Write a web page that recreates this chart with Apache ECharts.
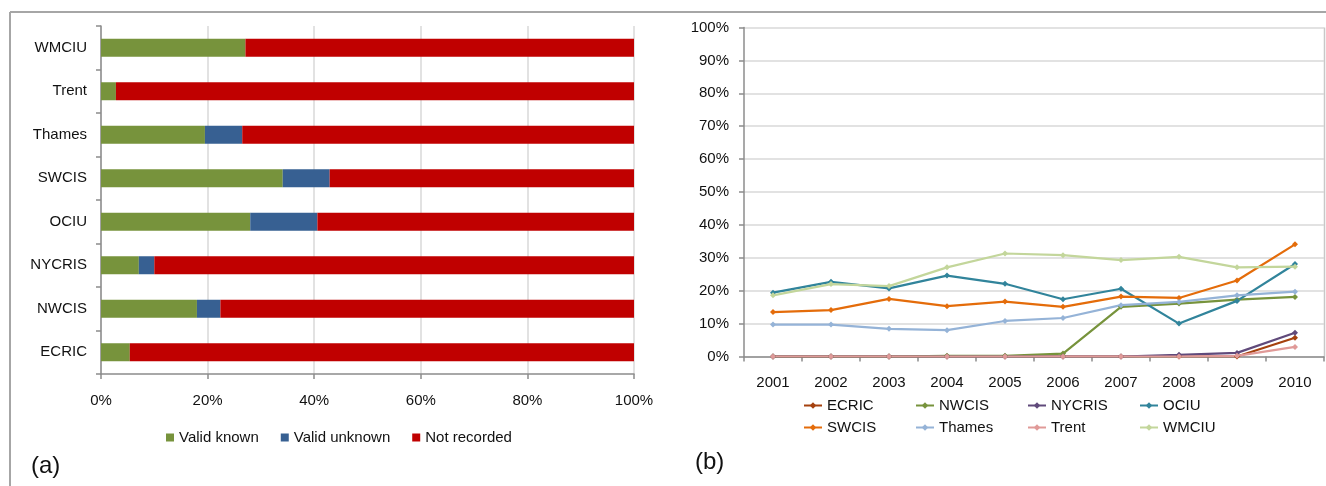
<!DOCTYPE html>
<html>
<head>
<meta charset="utf-8">
<script src="https://cdn.jsdelivr.net/npm/echarts@6/dist/echarts.min.js"></script>
<style>
  html, body { margin: 0; padding: 0; background: #fff; }
  #chart { width: 1326px; height: 486px; }
</style>
</head>
<body>
<div id="chart"></div>
<script>
// (a) Completeness of the recorded field by registry (percent of records)
const regions = ['ECRIC', 'NWCIS', 'NYCRIS', 'OCIU', 'SWCIS', 'Thames', 'Trent', 'WMCIU'];
const validKnown   = [5.4, 18.0, 7.1, 28.0, 34.1, 19.5, 2.8, 27.1];
const validUnknown = [0, 4.4, 2.9, 12.6, 8.8, 7.0, 0, 0];
const notRecorded  = [94.6, 77.6, 90.0, 59.4, 57.1, 73.5, 97.2, 72.9];
const barTicks = [0, 20, 40, 60, 80, 100];

// (b) Share of valid known values per year, by registry (percent)
const years = ['2001', '2002', '2003', '2004', '2005', '2006', '2007', '2008', '2009', '2010'];
const ecric  = [0, 0, 0, 0, 0, 0, 0, 0, 0, 5.7];
const nwcis  = [0, 0, 0, 0.2, 0.2, 0.9, 15.1, 16.1, 17.3, 18.1];
const nycris = [0, 0, 0, 0, 0, 0, 0, 0.5, 1.1, 7.2];
const ociu   = [19.4, 22.7, 20.7, 24.6, 22.1, 17.4, 20.6, 10.0, 16.9, 28.1];
const swcis  = [13.5, 14.1, 17.5, 15.3, 16.7, 15.1, 18.2, 17.8, 23.1, 34.1];
const thames = [9.7, 9.7, 8.4, 8.0, 10.8, 11.7, 15.6, 16.6, 18.6, 19.7];
const trent  = [0, 0, 0, 0, 0, 0, 0, 0, 0.2, 2.9];
const wmciu  = [18.6, 22.0, 21.4, 27.1, 31.3, 30.8, 29.3, 30.3, 27.1, 27.3];

const FONT = 'Liberation Sans, Arial, sans-serif';
const TEXT = '#111';
const AXIS = '#8c8c8c';
const GRID = '#d9d9d9';

const lineSeries = [
  { name: 'ECRIC',  data: ecric,  color: '#A5410E' },
  { name: 'NWCIS',  data: nwcis,  color: '#77933C' },
  { name: 'NYCRIS', data: nycris, color: '#604A7B' },
  { name: 'OCIU',   data: ociu,   color: '#31849B' },
  { name: 'SWCIS',  data: swcis,  color: '#E46C0A' },
  { name: 'Thames', data: thames, color: '#95B3D7' },
  { name: 'Trent',  data: trent,  color: '#E09A98' },
  { name: 'WMCIU',  data: wmciu,  color: '#C3D69B' }
];

const chart = echarts.init(document.getElementById('chart'), null, { renderer: 'canvas' });

const legendText = { fontFamily: FONT, fontSize: 15, color: TEXT };

// series legend laid out as a 4-column, 2-row table: one legend per cell
const seriesLegends = lineSeries.map((s, i) => ({
  data: [s.name],
  left: 803 + (i % 4) * 112,
  top: 398 + Math.floor(i / 4) * 22,
  itemWidth: 18, itemHeight: 8, padding: 0,
  textStyle: legendText
}));

chart.setOption({
  animation: false,
  backgroundColor: '#fff',
  textStyle: { fontFamily: FONT },
  grid: [
    { left: 101, top: 26, width: 533, height: 348 },
    { left: 744, top: 27.5, width: 580, height: 329 }
  ],
  xAxis: [
    {
      gridIndex: 0, type: 'value', min: barTicks[0], max: barTicks[barTicks.length - 1], interval: 20,
      axisLine: { show: true, lineStyle: { color: AXIS, width: 1.5 } },
      axisTick: { show: true, length: 5, lineStyle: { color: AXIS, width: 1.5 } },
      axisLabel: { formatter: '{value}%', margin: 19, fontSize: 15, color: TEXT, fontFamily: FONT },
      splitLine: { show: true, lineStyle: { color: GRID, width: 1.5 } }
    },
    {
      gridIndex: 1, type: 'category', data: years, boundaryGap: true,
      axisLine: { show: true, lineStyle: { color: AXIS, width: 1.5 } },
      axisTick: { show: true, length: 5, lineStyle: { color: AXIS, width: 1.5 } },
      axisLabel: { margin: 19, fontSize: 15, color: TEXT, fontFamily: FONT },
      splitLine: { show: false }
    }
  ],
  yAxis: [
    {
      gridIndex: 0, type: 'category', data: regions, boundaryGap: true,
      axisLine: { show: true, lineStyle: { color: AXIS, width: 1.5 } },
      axisTick: { show: true, length: 5, lineStyle: { color: AXIS, width: 1.5 } },
      axisLabel: { margin: 14, fontSize: 15, color: TEXT, fontFamily: FONT },
      splitLine: { show: false }
    },
    {
      gridIndex: 1, type: 'value', min: 0, max: 100, interval: 10,
      axisLine: { show: true, lineStyle: { color: AXIS, width: 1.5 } },
      axisTick: { show: true, length: 5, lineStyle: { color: AXIS, width: 1.5 } },
      axisLabel: { formatter: '{value}%', margin: 15, fontSize: 15, color: TEXT, fontFamily: FONT },
      splitLine: { show: true, lineStyle: { color: GRID, width: 1.5 } }
    }
  ],
  legend: [
    {
      data: ['Valid known', 'Valid unknown', 'Not recorded'],
      left: 166, top: 430, itemWidth: 8, itemHeight: 8, itemGap: 22,
      icon: 'rect', textStyle: legendText, padding: 0
    }
  ].concat(seriesLegends),
  series: [
    { name: 'Valid known', type: 'bar', stack: 'total', xAxisIndex: 0, yAxisIndex: 0,
      barWidth: 18, data: validKnown, itemStyle: { color: '#77933C' } },
    { name: 'Valid unknown', type: 'bar', stack: 'total', xAxisIndex: 0, yAxisIndex: 0,
      barWidth: 18, data: validUnknown, itemStyle: { color: '#376092' } },
    { name: 'Not recorded', type: 'bar', stack: 'total', xAxisIndex: 0, yAxisIndex: 0,
      barWidth: 18, data: notRecorded, itemStyle: { color: '#C00000' } }
  ].concat(lineSeries.map(s => ({
    name: s.name, type: 'line', xAxisIndex: 1, yAxisIndex: 1, data: s.data,
    symbol: 'diamond', symbolSize: 6, showSymbol: true,
    lineStyle: { color: s.color, width: 2.2 },
    itemStyle: { color: s.color },
    emphasis: { disabled: true }
  }))),
  graphic: [
    // outer frame (top and left edges)
    { type: 'line', shape: { x1: 10, y1: 12, x2: 1326, y2: 12 }, style: { stroke: '#a6a6a6', lineWidth: 2 } },
    { type: 'line', shape: { x1: 10, y1: 12, x2: 10, y2: 486 }, style: { stroke: '#a6a6a6', lineWidth: 2 } },
    // right edge of the line-chart plot area
    { type: 'line', shape: { x1: 1324.5, y1: 27.5, x2: 1324.5, y2: 356.5 }, style: { stroke: '#c8c8c8', lineWidth: 1.5 } },
    // panel captions
    { type: 'text', left: 31, top: 454, style: { text: '(a)', font: '24px ' + FONT, fill: TEXT } },
    { type: 'text', left: 695, top: 450, style: { text: '(b)', font: '24px ' + FONT, fill: TEXT } }
  ]
});
</script>
</body>
</html>
